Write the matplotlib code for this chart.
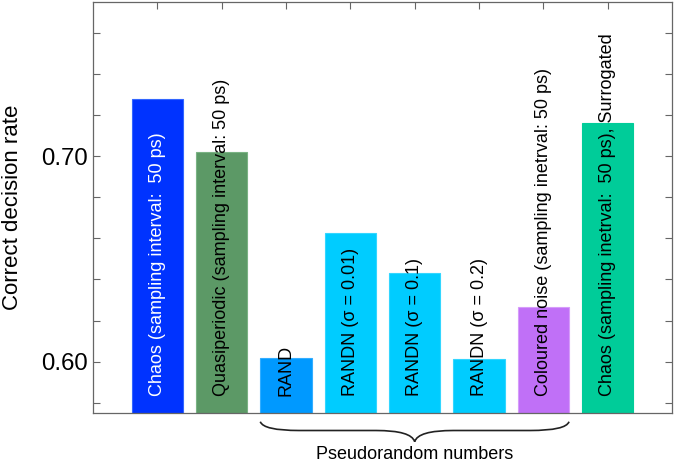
import matplotlib
matplotlib.use("Agg")
import matplotlib.pyplot as plt
from matplotlib.path import Path
from matplotlib.patches import PathPatch
import matplotlib.transforms as mtransforms
import numpy as np

plt.rcParams['font.family'] = ['Liberation Sans', 'DejaVu Sans']

labels = [
    "Chaos (sampling interval:  50 ps)",
    "Quasiperiodic (sampling interval: 50 ps)",
    "RAND",
    "RANDN (\u03c3 = 0.01)",
    "RANDN (\u03c3 = 0.1)",
    "RANDN (\u03c3 = 0.2)",
    "Coloured noise (sampling inetrval: 50 ps)",
    "Chaos (sampling inetrval:  50 ps), Surrogated",
]
values = [0.7276, 0.7021, 0.6020, 0.6624, 0.6430, 0.6012, 0.6264, 0.7159]
colors = ["#0033FF", "#5C9966", "#0099FF", "#00CCFF", "#00CCFF", "#00CCFF", "#C070F7", "#00CC99"]
edges = ["#3366FF", "#7AB384", "#33ADFF", "#33D6FF", "#33D6FF", "#33D6FF", "#D69CFA", "#00CC99"]
text_colors = ["white", "black", "black", "black", "black", "black", "black", "black"]
yticks = [0.60, 0.70]
group_label = "Pseudorandom numbers"

fig = plt.figure(figsize=(6.75, 4.65), dpi=100)
ax = fig.add_axes([93/675, 1 - 413/465, (672-93)/675, (413-2)/465])

x = np.arange(1, len(values) + 1)
ax.bar(x, values, width=0.8, color=colors, edgecolor=edges, linewidth=0.8, zorder=2)

ax.set_xlim(0, 9)
ax.set_ylim(0.575, 0.775)
ax.set_yticks(np.arange(0.58, 0.775, 0.02), minor=True)
ax.set_yticks(yticks)
ax.set_yticklabels(["%.2f" % v for v in yticks], fontsize=17.3)
ax.set_xticks(x)
ax.set_xticklabels([])
ax.tick_params(axis='both', which='both', direction='in', top=True, right=True,
               length=5, color='#666666', width=0.8)
ax.tick_params(axis='x', bottom=False)
ax.tick_params(axis='y', which='minor', length=5)
ax.tick_params(axis='y', which='major', pad=3.5)
for s in ax.spines.values():
    s.set_color('#666666')
    s.set_linewidth(0.9)

ax.set_ylabel("Correct decision rate", fontsize=16, labelpad=13)

for xi, lab, tc in zip(x, labels, text_colors):
    ax.text(xi, 0.5835, lab, rotation=90, ha='center', va='bottom',
            fontsize=13, color=tc, zorder=3)

# Brace under bars 3..7
x0, x1 = 2.6, 7.4
xm = 5.0
y_end = -(421.7 - 413) / 411
y_mid = -(430.5 - 413) / 411
y_tip = -(441.7 - 413) / 411
bt = mtransforms.blended_transform_factory(ax.transData, ax.transAxes)
verts = [
    (x0, y_end), (x0 + 0.05, y_mid), (x0 + 0.6, y_mid),
    (xm - 0.6, y_mid), (xm - 0.05, y_mid), (xm, y_tip),
    (xm + 0.05, y_mid), (xm + 0.6, y_mid),
    (x1 - 0.6, y_mid), (x1 - 0.05, y_mid), (x1, y_end),
]
codes = [Path.MOVETO, Path.CURVE3, Path.CURVE3,
         Path.LINETO, Path.CURVE3, Path.CURVE3,
         Path.CURVE3, Path.CURVE3,
         Path.LINETO, Path.CURVE3, Path.CURVE3]
brace = PathPatch(Path(verts, codes), transform=bt, fill=False,
                  edgecolor='#222222', linewidth=1.2, clip_on=False)
ax.add_patch(brace)
ax.text(xm, -(454 - 413) / 411, group_label, transform=bt, ha='center', va='center',
        fontsize=13)

fig.savefig("out.png", dpi=100)
